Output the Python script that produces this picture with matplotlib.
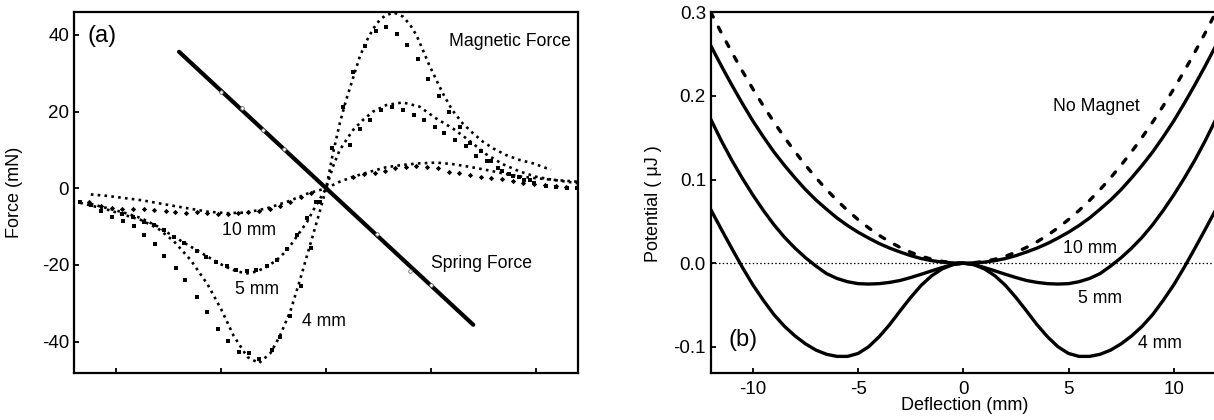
import matplotlib
matplotlib.use("Agg")
import matplotlib.pyplot as plt
from matplotlib.ticker import FormatStrFormatter, NullFormatter

plt.rcParams['font.family'] = ['Liberation Sans', 'DejaVu Sans']
plt.rcParams['axes.unicode_minus'] = False

# ---------------- Panel (a): forces ----------------
spring_x = [-7.0, 7.0]
spring_force = [35.6, -35.6]
spring_data_x = [-5.0, -4.0, -3.0, -2.0, 2.4, 4.0, 5.0]
spring_data = [25.0, 20.9, 15.3, 10.2, -11.9, -21.5, -25.3]

model_4mm_x = [-11.7, -10.4, -8.8, -8.0, -7.25, -6.45, -5.65, -5.0, -4.4, -3.75, -3.2, -2.65,
               -2.2, -1.7, -1.25, -0.75, -0.3, 0.0, 0.3, 0.65, 0.95, 1.3, 1.6, 1.9, 2.25,
               2.55, 2.85, 3.25, 3.65, 4.0, 4.3, 4.6, 4.9, 5.25, 5.55, 6.0, 6.5, 7.0, 7.45,
               7.95, 8.55, 9.2, 9.85, 10.7]
model_4mm = [-3.8, -5.6, -8.3, -10.5, -13.8, -18.7, -25.0, -31.5, -38.5, -44.0, -45.6, -43.0,
             -38.5, -32.0, -24.0, -14.5, -6.0, 0.0, 8.5, 17.0, 23.0, 29.1, 34.3, 38.2, 41.7,
             43.9, 45.2, 45.8, 44.8, 42.6, 39.9, 36.1, 32.2, 28.2, 24.8, 20.4, 16.9, 14.3, 12.2,
             10.4, 8.7, 7.4, 6.5, 4.8]

model_5mm_x = [-11.2, -10.4, -9.6, -8.8, -8.0, -7.25, -6.45, -5.65, -4.85, -4.25, -3.75, -3.3,
               -2.8, -2.35, -1.85, -1.4, -0.9, -0.6, 0.0, 0.32, 0.64, 0.96, 1.28, 1.75, 2.23,
               2.86, 3.65, 4.44, 5.24, 6.03, 6.82, 7.61, 8.4, 9.2, 10.0, 10.8, 12.0]
model_5mm = [-4.1, -5.2, -6.4, -7.8, -10.0, -12.6, -15.2, -17.8, -20.3, -21.7, -22.2, -21.7,
             -20.4, -18.7, -16.1, -12.6, -8.7, -5.6, 0.0, 5.6, 9.9, 12.6, 15.2, 17.8, 20.0,
             21.7, 22.4, 21.3, 18.2, 15.6, 12.4, 8.9, 6.3, 4.4, 3.0, 2.2, 1.3]

model_10mm_x = [-11.2, -10.4, -8.8, -7.25, -5.65, -4.7, -3.75, -2.8, -1.85, -0.9, 0.0, 0.64,
                1.28, 2.07, 2.86, 3.65, 4.44, 5.24, 6.03, 6.82, 7.61, 8.4, 9.2, 10.0, 10.8, 12.0]
model_10mm = [-1.6, -2.0, -3.1, -4.6, -6.1, -6.5, -6.3, -5.2, -3.5, -1.4, 0.0, 1.7,
              3.0, 4.3, 5.5, 6.1, 6.5, 6.7, 6.3, 5.6, 4.8, 3.9, 3.1, 2.6, 2.2, 1.7]

data_4mm_x = [-11.7, -11.2, -10.7, -10.2, -9.65, -9.15, -8.65, -8.15, -7.7, -7.15, -6.7, -6.15,
              -5.65, -5.15, -4.65, -4.15, -3.65, -3.2, -2.6, -2.2, -1.7, -1.2, -0.7, -0.3,
              0.3, 0.8, 1.3, 1.85, 2.35, 2.85, 3.35, 3.85, 4.35, 4.85, 5.35, 5.85, 6.35, 6.85,
              7.35, 7.85, 8.35, 8.9, 9.4, 9.9, 10.45, 10.95, 11.45, 11.95]
data_4mm = [-3.7, -4.4, -5.9, -7.4, -8.5, -9.8, -12.2, -14.6, -17.6, -20.7, -23.9, -28.3,
            -32.3, -36.6, -39.8, -42.8, -43.0, -44.6, -42.3, -38.7, -33.3, -25.6, -15.6, -3.5,
            10.4, 21.1, 30.4, 37.1, 41.1, 42.1, 40.2, 37.5, 33.6, 28.5, 24.1, 20.0, 15.9, 11.9,
            9.6, 7.0, 4.6, 3.3, 2.2, 1.3, 0.6, 0.4, 0.0, 0.0]

data_5mm_x = [-9.7, -9.18, -8.67, -8.2, -7.72, -7.25, -6.77, -6.17, -5.7, -5.22, -4.74, -4.27,
              -3.79, -3.32, -2.81, -2.34, -1.86, -1.39, -0.91, -0.47, 1.12, 1.59, 2.1, 2.62,
              3.15, 3.66, 4.16, 4.68, 5.16, 5.63, 6.15, 6.66, 7.14, 7.66, 8.17, 8.69, 9.2, 9.7]
data_5mm = [-6.7, -7.4, -8.7, -9.6, -11.0, -12.6, -14.3, -16.3, -18.0, -19.1, -20.3, -21.3,
            -21.7, -21.3, -20.4, -18.7, -15.9, -12.2, -7.8, -3.5, 11.3, 15.4, 17.8, 20.4,
            21.1, 20.4, 19.1, 17.9, 16.0, 14.3, 12.6, 10.9, 8.5, 7.0, 5.2, 3.8, 2.9, 2.2]

data_10mm_x = [-11.29, -10.73, -10.18, -9.70, -9.18, -8.67, -8.20, -7.64, -7.17, -6.69, -6.17,
               -5.66, -5.16, -4.68, -4.19, -3.73, -3.21, -2.69, -2.18, -1.70, -1.18, -0.70,
               1.28, 1.80, 2.31, 2.81, 3.30, 3.81, 4.29, 4.79, 5.31, 5.84, 6.34, 6.85, 7.37,
               7.85, 8.37, 8.88, 9.39, 9.91, 10.43, 10.94, 11.42, 11.92]
data_10mm = [-3.5, -4.5, -5.1, -5.5, -5.5, -5.5, -5.7, -5.9, -6.1, -6.4, -6.3,
             -6.5, -6.7, -6.7, -6.5, -6.3, -5.8, -5.4, -4.5, -3.5, -2.4, -1.1,
             3.0, 3.6, 4.1, 4.6, 5.2, 5.6, 5.8, 5.6, 5.2, 4.3, 3.9, 3.5, 3.0,
             2.6, 2.3, 2.0, 1.5, 1.1, 0.85, 0.6, 0.4, 0.25]

force_yticks = [-40, -20, 0, 20, 40]
force_xticks = [-10, -5, 0, 5, 10]

# ---------------- Panel (b): potentials ----------------
deflection = [-12.0, -11.5, -11.0, -10.5, -10.0, -9.5, -9.0, -8.5, -8.0, -7.5, -7.0, -6.5,
              -6.0, -5.5, -5.0, -4.5, -4.0, -3.5, -3.0, -2.5, -2.0, -1.5, -1.0, -0.5, 0.0,
              0.5, 1.0, 1.5, 2.0, 2.5, 3.0, 3.5, 4.0, 4.5, 5.0, 5.5, 6.0, 6.5, 7.0, 7.5,
              8.0, 8.5, 9.0, 9.5, 10.0, 10.5, 11.0, 11.5, 12.0]
pot_no_magnet = [0.3000, 0.2755, 0.2521, 0.2297, 0.2083, 0.1880, 0.1688, 0.1505, 0.1333, 0.1172,
                 0.1021, 0.0880, 0.0750, 0.0630, 0.0521, 0.0422, 0.0333, 0.0255, 0.0188, 0.0130,
                 0.0083, 0.0047, 0.0021, 0.0005, 0.0,
                 0.0005, 0.0021, 0.0047, 0.0083, 0.0130, 0.0188, 0.0255, 0.0333, 0.0422, 0.0521,
                 0.0630, 0.0750, 0.0880, 0.1021, 0.1172, 0.1333, 0.1505, 0.1688, 0.1880, 0.2083,
                 0.2297, 0.2521, 0.2755, 0.3000]
pot_10mm = [0.2600, 0.2360, 0.2130, 0.1910, 0.1700, 0.1510, 0.1330, 0.1170, 0.1020, 0.0880,
            0.0755, 0.0645, 0.0540, 0.0450, 0.0370, 0.0300, 0.0235, 0.0180, 0.0133, 0.0090,
            0.0055, 0.0030, 0.0012, 0.0003, 0.0,
            0.0003, 0.0012, 0.0030, 0.0055, 0.0090, 0.0133, 0.0180, 0.0235, 0.0300, 0.0370,
            0.0450, 0.0540, 0.0645, 0.0755, 0.0880, 0.1020, 0.1170, 0.1330, 0.1510, 0.1700,
            0.1910, 0.2130, 0.2360, 0.2600]
pot_5mm = [0.1720, 0.1465, 0.1230, 0.1015, 0.0815, 0.0630, 0.0460, 0.0310, 0.0180, 0.0065,
           -0.0035, -0.0125, -0.0183, -0.0222, -0.0245, -0.0250, -0.0245, -0.0230, -0.0207,
           -0.0172, -0.0133, -0.0092, -0.0052, -0.0016, 0.0,
           -0.0016, -0.0052, -0.0092, -0.0133, -0.0172, -0.0207, -0.0230, -0.0245, -0.0250,
           -0.0245, -0.0222, -0.0183, -0.0125, -0.0035, 0.0065, 0.0180, 0.0310, 0.0460,
           0.0630, 0.0815, 0.1015, 0.1230, 0.1465, 0.1720]
pot_4mm = [0.0640, 0.0405, 0.0175, -0.0050, -0.0260, -0.0445, -0.0615, -0.0755, -0.0870,
           -0.0965, -0.1040, -0.1090, -0.1115, -0.1115, -0.1080, -0.1000, -0.0880, -0.0735,
           -0.0570, -0.0410, -0.0265, -0.0150, -0.0068, -0.0018, 0.0,
           -0.0018, -0.0068, -0.0150, -0.0265, -0.0410, -0.0570, -0.0735, -0.0880, -0.1000,
           -0.1080, -0.1115, -0.1115, -0.1090, -0.1040, -0.0965, -0.0870, -0.0755, -0.0615,
           -0.0445, -0.0260, -0.0050, 0.0175, 0.0405, 0.0640]
zero_line_x = [-12.0, 12.0]
zero_line_y = [0.0, 0.0]

pot_yticks = [-0.1, 0.0, 0.1, 0.2, 0.3]
pot_xticks = [-10, -5, 0, 5, 10]

# ---------------- Figure ----------------
W, H = 1214, 420
fig = plt.figure(figsize=(W / 100, H / 100), dpi=100)
ax1 = fig.add_axes([74 / W, 47.3 / H, 504.3 / W, 360.4 / H])
ax2 = fig.add_axes([710.8 / W, 47.3 / H, 505.0 / W, 360.4 / H])

TICK_FS = 13.5
TXT_FS = 12.7

for ax in (ax1, ax2):
    for s in ax.spines.values():
        s.set_linewidth(1.6)
    ax.tick_params(direction='in', length=3.8, width=1.3, labelsize=TICK_FS,
                   top=False, right=False)

# Panel (a)
dot_style = dict(color='black', lw=1.9, linestyle=(0, (1.0, 1.6)), dash_capstyle='butt')
ax1.plot(model_4mm_x, model_4mm, **dot_style)
ax1.plot(model_5mm_x, model_5mm, **dot_style)
ax1.plot(model_10mm_x, model_10mm, **dot_style)
ax1.plot(data_4mm_x, data_4mm, linestyle='none', marker='s', ms=3.0, color='black', mew=0)
ax1.plot(data_5mm_x, data_5mm, linestyle='none', marker='s', ms=2.6, color='black', mew=0)
ax1.plot(data_10mm_x, data_10mm, linestyle='none', marker='D', ms=2.7, color='black', mew=0)
ax1.plot(spring_x, spring_force, color='black', lw=3.0, solid_capstyle='round')
ax1.plot(spring_data_x, spring_data, linestyle='none', marker='o', ms=2.6,
         mfc='white', mec='#666666', mew=0.6)

ax1.set_xlim(-12, 12)
ax1.set_ylim(-48.1, 45.9)
ax1.set_xticks(force_xticks)
ax1.xaxis.set_major_formatter(NullFormatter())
ax1.set_yticks(force_yticks)
ax1.set_ylabel('Force (mN)', fontsize=TXT_FS + 0.3)
ax1.yaxis.set_label_coords(-0.101, 0.5)

ax1.text(-11.35, 39.8, '(a)', fontsize=17, va='center', ha='left')
ax1.text(5.87, 38.4, 'Magnetic Force', fontsize=TXT_FS, va='center', ha='left')
ax1.text(4.97, -19.6, 'Spring Force', fontsize=TXT_FS, va='center', ha='left')
ax1.text(-4.98, -10.9, '10 mm', fontsize=TXT_FS, va='center', ha='left')
ax1.text(-4.35, -26.5, '5 mm', fontsize=TXT_FS, va='center', ha='left')
ax1.text(-1.13, -34.8, '4 mm', fontsize=TXT_FS, va='center', ha='left')

# Panel (b)
ax2.plot(zero_line_x, zero_line_y, color='black', lw=0.9, linestyle=(0, (1.2, 1.8)))
ax2.plot(deflection, pot_no_magnet, color='black', lw=2.4, linestyle=(0, (1.6, 3.4)),
         dash_capstyle='round')
ax2.plot(deflection, pot_10mm, color='black', lw=2.4)
ax2.plot(deflection, pot_5mm, color='black', lw=2.4)
ax2.plot(deflection, pot_4mm, color='black', lw=2.4)

ax2.set_xlim(-12, 12)
ax2.set_ylim(-0.131, 0.3)
ax2.set_xticks(pot_xticks)
ax2.set_yticks(pot_yticks)
ax2.yaxis.set_major_formatter(FormatStrFormatter('%.1f'))
ax2.set_xlabel('Deflection (mm)', fontsize=TXT_FS + 0.3)
ax2.xaxis.set_label_coords(0.503, -0.068)
ax2.set_ylabel('Potential ( \u03bcJ )', fontsize=TXT_FS + 0.3)
ax2.yaxis.set_label_coords(-0.097, 0.47)
ax2.tick_params(axis='x', pad=6)

ax2.text(-11.18, -0.092, '(b)', fontsize=17, va='center', ha='left')
ax2.text(4.28, 0.1876, 'No Magnet', fontsize=TXT_FS, va='center', ha='left')
ax2.text(4.74, 0.017, '10 mm', fontsize=TXT_FS, va='center', ha='left')
ax2.text(5.45, -0.0428, '5 mm', fontsize=TXT_FS, va='center', ha='left')
ax2.text(8.30, -0.0958, '4 mm', fontsize=TXT_FS, va='center', ha='left')

fig.savefig('out.png', dpi=100)
